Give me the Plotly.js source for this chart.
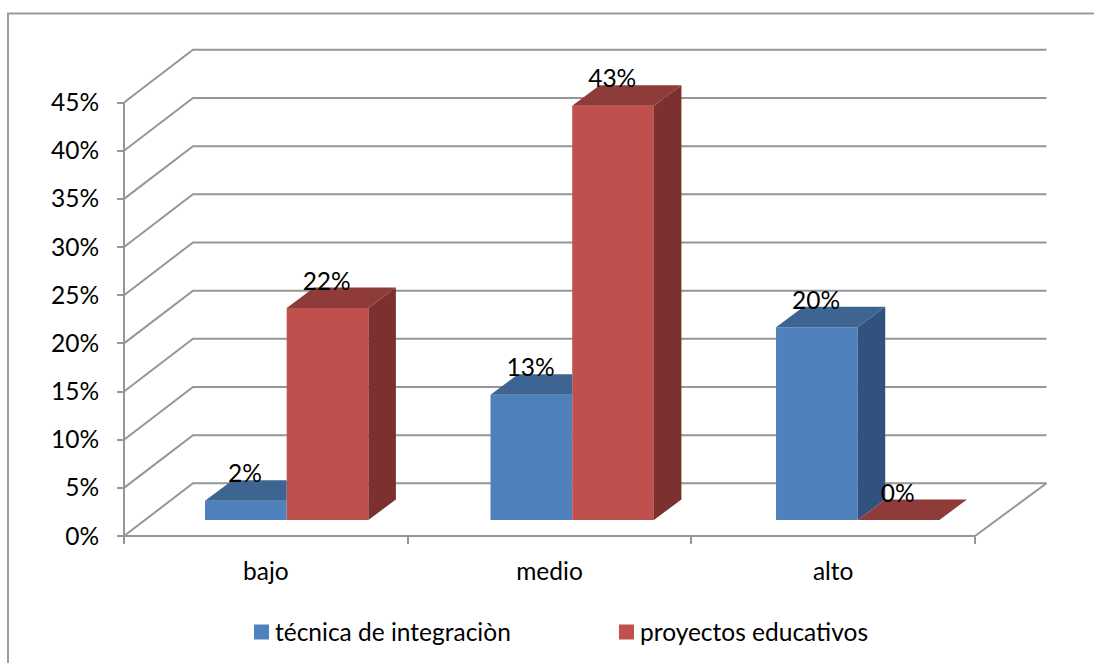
<!DOCTYPE html>
<html>
<head>
<meta charset="utf-8">
<script src="https://cdn.plot.ly/plotly-3.0.1.min.js"></script>
<style>html,body{margin:0;padding:0;background:#fff}#chart{width:1094px;height:663px}</style>
</head>
<body>
<div id="chart"></div>
<script>
// Survey results by level, drawn as an oblique "3D" clustered column chart.
const categories = ['bajo', 'medio', 'alto'];
const seriesNames = ['técnica de integraciòn', 'proyectos educativos'];
const tecnica = [2, 13, 20];
const proyectos = [22, 43, 0];
const percentTicks = [0, 5, 10, 15, 20, 25, 30, 35, 40, 45];

const W = 1094, H = 663;
// Scale: one category cell is 283.67 px wide, one percent point is 9.633 px tall.
const CELL = 283.67, PCT = 9.633, ORIGIN_X = 124, ORIGIN_Y = 536;
const cells = px => px / CELL;
const pcts = px => px / PCT;

// Oblique offsets of the back wall and of the column depth.
const WALL_DX = cells(69), WALL_DY = pcts(52.7), WALL_END = cells(1046.5 - ORIGIN_X);
const BAR_DX = cells(27.5), BAR_DY = pcts(20.5);
const FLOOR = pcts(16), BAR_W = cells(81.7);
const GROUP_START = cells(81), GROUP_PITCH = 1.0065;
const LABEL_DX = cells(40), LABEL_DY = pcts(24.5);

const GRID = '#969696';
const colours = [
  {front: '#4F81BD', top: '#3E6491', side: '#31527C'},
  {front: '#C0504D', top: '#8F3B39', side: '#7C3130'}
];
const seriesValues = [tecnica, proyectos];
const barLeft = (s, i) => GROUP_START + i * GROUP_PITCH + s * BAR_W;

function polygon(xs, ys, colour) {
  return {x: xs, y: ys, type: 'scatter', mode: 'none', fill: 'toself',
          fillcolor: colour, showlegend: false, hoverinfo: 'skip'};
}

// Wall and floor lines sit beneath every trace.
const lineShape = (xs, ys) => ({
  type: 'path', layer: 'below', xref: 'x', yref: 'y',
  path: xs.map((x, k) => (k ? 'L' : 'M') + x + ',' + ys[k]).join(' '),
  line: {color: GRID, width: 2}
});
const shapes = percentTicks.map(v =>
  lineShape([0, WALL_DX, WALL_END], [v, v + WALL_DY, v + WALL_DY]));
shapes.push(lineShape([0, 0], [0, percentTicks[percentTicks.length - 1]]));
shapes.push(lineShape([0, categories.length, WALL_END], [0, 0, WALL_DY]));
// Frame of the chart area, open towards the page edges.
shapes.push({type: 'path', layer: 'below', xref: 'paper', yref: 'paper',
  path: `M${8 / W},-0.1 L${8 / W},${1 - 13.5 / H} L1.1,${1 - 13.5 / H}`,
  line: {color: '#9C9C9C', width: 2}});

const traces = [];
// Front faces of the columns.
seriesValues.forEach((vals, s) => {
  traces.push({
    type: 'bar', name: seriesNames[s],
    x: vals.map((_, i) => barLeft(s, i) + BAR_W / 2),
    y: vals, base: vals.map(() => FLOOR), width: BAR_W,
    marker: {color: colours[s].front, line: {color: colours[s].front, width: 0}},
    hoverinfo: 'skip'
  });
});
// Top and side faces; the first series is cut where its neighbour stands in front.
seriesValues.forEach((vals, s) => {
  vals.forEach((v, i) => {
    const l = barLeft(s, i), r = l + BAR_W, t = FLOOR + v;
    const hidden = s === 0 && seriesValues[1][i] > v;
    if (hidden) {
      traces.push(polygon([l, l + BAR_DX, r, r], [t, t + BAR_DY, t + BAR_DY, t], colours[s].top));
    } else {
      traces.push(polygon([r, r + BAR_DX, r + BAR_DX, r], [FLOOR, FLOOR + BAR_DY, t + BAR_DY, t], colours[s].side));
      traces.push(polygon([l, l + BAR_DX, r + BAR_DX, r], [t, t + BAR_DY, t + BAR_DY, t], colours[s].top));
    }
  });
});
const font = {family: 'Lato, sans-serif', size: 24.5, color: '#000'};
// Value labels.
seriesValues.forEach((vals, s) => {
  traces.push({
    type: 'scatter', mode: 'text', showlegend: false, hoverinfo: 'skip',
    x: vals.map((_, i) => barLeft(s, i) + LABEL_DX),
    y: vals.map(v => FLOOR + v + LABEL_DY),
    text: vals.map(v => v + '%'),
    textposition: 'middle center', cliponaxis: false,
    textfont: font
  });
});

const xRange = [cells(-ORIGIN_X), cells(W - ORIGIN_X)];
const yRange = [pcts(ORIGIN_Y - H), pcts(ORIGIN_Y)];

const layout = {
  width: W, height: H, autosize: false, showlegend: true,
  margin: {l: 0, r: 0, t: 0, b: 0, pad: 0},
  paper_bgcolor: '#fff', plot_bgcolor: '#fff',
  barmode: 'overlay',
  shapes: shapes,
  xaxis: {
    range: xRange, anchor: 'free', position: 1 - ORIGIN_Y / H,
    showgrid: false, zeroline: false, showline: false,
    tickmode: 'array', tickvals: categories.map((_, i) => i + 0.5), ticktext: categories,
    ticks: '', tickfont: font, ticklabelstandoff: 18,
    minor: {tickmode: 'array', tickvals: [0, 1, 2, 3], ticks: 'outside', ticklen: 7, tickwidth: 2, tickcolor: GRID, showgrid: false}
  },
  yaxis: {
    range: yRange, anchor: 'free', position: ORIGIN_X / W,
    showgrid: false, zeroline: false, showline: false,
    tickmode: 'array', tickvals: percentTicks, ticktext: percentTicks.map(v => v + '%'),
    ticks: 'outside', ticklen: 7, tickwidth: 2, tickcolor: GRID,
    tickfont: font, ticklabelstandoff: 13
  },
  legend: {
    orientation: 'h', x: 235 / W, y: 1 - 632 / H, xanchor: 'left', yanchor: 'middle',
    entrywidth: 320, entrywidthmode: 'pixels', traceorder: 'normal',
    font: font, bgcolor: 'rgba(0,0,0,0)', itemclick: false, itemdoubleclick: false
  }
};

Plotly.newPlot('chart', traces, layout, {staticPlot: true, displayModeBar: false}).then(() => {
  // Legend keys sit closer to their text and are a little larger than the library default.
  document.querySelectorAll('.legend .legendpoints path').forEach(p => {
    const t = p.getAttribute('transform') || '';
    p.setAttribute('transform', t + ' translate(6.5,0) scale(1.25)');
  });
});
</script>
</body>
</html>
